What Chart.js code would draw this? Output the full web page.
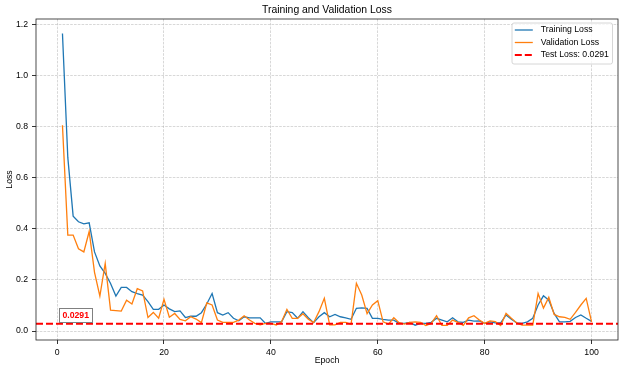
<!DOCTYPE html>
<html>
<head>
<meta charset="utf-8">
<script src="https://cdn.jsdelivr.net/npm/chart.js@4.4.0/dist/chart.umd.min.js"></script>
<style>
  html, body { margin: 0; padding: 0; background: #fff; }
  #wrap { width: 625px; height: 372px; }
</style>
</head>
<body>
<div id="wrap"><canvas id="lossChart" width="625" height="372"></canvas></div>
<script>
// data
const epochs = Array.from({ length: 100 }, (_, i) => i + 1);

const trainLoss = [
  1.165, 0.68, 0.45, 0.428, 0.42, 0.424, 0.31, 0.255, 0.226, 0.186,
  0.137, 0.171, 0.171, 0.154, 0.147, 0.141, 0.115, 0.085, 0.085, 0.102,
  0.087, 0.076, 0.079, 0.053, 0.058, 0.058, 0.072, 0.106, 0.147, 0.072,
  0.063, 0.072, 0.05, 0.04, 0.056, 0.052, 0.052, 0.052, 0.03, 0.036,
  0.036, 0.036, 0.076, 0.072, 0.05, 0.076, 0.052, 0.033, 0.056, 0.072,
  0.056, 0.065, 0.056, 0.052, 0.046, 0.089, 0.091, 0.089, 0.05, 0.05,
  0.046, 0.043, 0.043, 0.03, 0.03, 0.034, 0.023, 0.03, 0.03, 0.034,
  0.05, 0.043, 0.036, 0.052, 0.036, 0.034, 0.043, 0.039, 0.04, 0.03,
  0.036, 0.032, 0.032, 0.063, 0.046, 0.032, 0.03, 0.036, 0.05, 0.102,
  0.138, 0.121, 0.069, 0.036, 0.036, 0.038, 0.053, 0.063, 0.05, 0.038
];

const valLoss = [
  0.806, 0.376, 0.376, 0.322, 0.31, 0.39, 0.23, 0.137, 0.265, 0.082,
  0.08, 0.078, 0.121, 0.106, 0.166, 0.157, 0.053, 0.073, 0.05, 0.124,
  0.054, 0.069, 0.046, 0.04, 0.056, 0.047, 0.033, 0.11, 0.102, 0.043,
  0.034, 0.034, 0.034, 0.043, 0.06, 0.043, 0.03, 0.024, 0.03, 0.03,
  0.024, 0.036, 0.085, 0.05, 0.05, 0.068, 0.046, 0.033, 0.076, 0.128,
  0.024, 0.024, 0.034, 0.034, 0.026, 0.187, 0.141, 0.068, 0.102, 0.119,
  0.036, 0.027, 0.052, 0.033, 0.027, 0.034, 0.036, 0.034, 0.022, 0.03,
  0.06, 0.022, 0.022, 0.043, 0.034, 0.022, 0.052, 0.06, 0.043, 0.03,
  0.04, 0.037, 0.022, 0.069, 0.05, 0.032, 0.023, 0.023, 0.023, 0.147,
  0.09, 0.132, 0.065, 0.056, 0.054, 0.046, 0.073, 0.102, 0.128, 0.036
];

const testLoss = 0.0291;

const xTicks = [0, 20, 40, 60, 80, 100];
const yTicks = [0, 0.2, 0.4, 0.6, 0.8, 1.0, 1.2];

const FONT = '"Liberation Sans", Arial, Helvetica, sans-serif';
const BLUE = '#1f77b4';
const ORANGE = '#ff7f0e';
const RED = '#ff0000';

// title, axis labels, spines, test line, note and legend
const lossDecor = {
  id: 'lossDecor',
  beforeDraw(chart) {
    const ctx = chart.ctx;
    ctx.save();
    ctx.fillStyle = '#fff';
    ctx.fillRect(0, 0, chart.width, chart.height);
    ctx.restore();
  },
  afterDatasetsDraw(chart) {
    const { ctx, chartArea: a, scales: { x, y } } = chart;
    const ty = y.getPixelForValue(testLoss);

    // test loss line
    ctx.save();
    ctx.beginPath();
    ctx.rect(a.left, a.top, a.right - a.left, a.bottom - a.top);
    ctx.clip();
    ctx.strokeStyle = RED;
    ctx.lineWidth = 2;
    ctx.setLineDash([7, 3]);
    ctx.beginPath();
    ctx.moveTo(a.left, ty);
    ctx.lineTo(a.right, ty);
    ctx.stroke();
    ctx.restore();

    // value note
    ctx.save();
    ctx.font = 'bold 8.7px ' + FONT;
    const note = testLoss.toFixed(4);
    const tx = x.getPixelForValue(epochs[0]);
    const tw = ctx.measureText(note).width;
    const cy = ty - 8.3;
    ctx.fillStyle = '#fff';
    ctx.fillRect(tx - 3.4, cy - 7.2, tw + 6.8, 14.4);
    ctx.strokeStyle = '#808080';
    ctx.lineWidth = 1;
    ctx.strokeRect(Math.round(tx - 3.4) + 0.5, Math.round(cy - 7.2) + 0.5, Math.round(tw + 6.8), 14);
    ctx.fillStyle = RED;
    ctx.textBaseline = 'middle';
    ctx.textAlign = 'left';
    ctx.fillText(note, tx, cy);
    ctx.restore();

    // spines
    ctx.save();
    ctx.strokeStyle = '#222';
    ctx.lineWidth = 0.8;
    ctx.strokeRect(a.left, a.top, a.right - a.left, a.bottom - a.top);
    ctx.restore();

    // title and axis labels
    ctx.save();
    ctx.fillStyle = '#000';
    ctx.textAlign = 'center';
    ctx.textBaseline = 'middle';
    const cx = (a.left + a.right) / 2;
    ctx.font = '10.4px ' + FONT;
    ctx.fillText('Training and Validation Loss', cx, 10.3);
    ctx.font = '8.7px ' + FONT;
    ctx.fillText('Epoch', cx, 360.3);
    ctx.translate(10, (a.top + a.bottom) / 2);
    ctx.rotate(-Math.PI / 2);
    ctx.fillText('Loss', 0, 0);
    ctx.restore();

    // legend
    const lx = a.right - 5.5, ltop = a.top + 4;
    const lw = 100.5, lh = 41;
    ctx.save();
    ctx.fillStyle = 'rgba(255,255,255,0.8)';
    ctx.strokeStyle = '#cccccc';
    ctx.lineWidth = 0.8;
    ctx.beginPath();
    ctx.roundRect(lx - lw, ltop, lw, lh, 2);
    ctx.fill();
    ctx.stroke();
    const rows = [
      { label: 'Training Loss', color: BLUE, width: 1.3, dash: [] },
      { label: 'Validation Loss', color: ORANGE, width: 1.3, dash: [] },
      { label: 'Test Loss: ' + testLoss.toFixed(4), color: RED, width: 2, dash: [7, 3] }
    ];
    const hx = lx - lw + 2.8;
    ctx.font = '8.7px ' + FONT;
    ctx.textAlign = 'left';
    ctx.textBaseline = 'middle';
    rows.forEach((r, i) => {
      const ry = ltop + 7 + i * 12.5;
      ctx.strokeStyle = r.color;
      ctx.lineWidth = r.width;
      ctx.setLineDash(r.dash);
      ctx.beginPath();
      ctx.moveTo(hx, ry);
      ctx.lineTo(hx + 18, ry);
      ctx.stroke();
      ctx.fillStyle = '#000';
      ctx.fillText(r.label, hx + 26, ry);
    });
    ctx.restore();
  }
};

const config = {
  type: 'line',
  data: {
    datasets: [
      {
        label: 'Training Loss',
        data: epochs.map((e, i) => ({ x: e, y: trainLoss[i] })),
        borderColor: BLUE,
        borderWidth: 1.3,
        pointRadius: 0,
        tension: 0,
        order: 2
      },
      {
        label: 'Validation Loss',
        data: epochs.map((e, i) => ({ x: e, y: valLoss[i] })),
        borderColor: ORANGE,
        borderWidth: 1.3,
        pointRadius: 0,
        tension: 0,
        order: 1
      }
    ]
  },
  options: {
    responsive: false,
    animation: false,
    devicePixelRatio: 1,
    layout: { padding: { top: 19, right: 7, left: 0, bottom: 0 } },
    plugins: {
      legend: { display: false },
      title: { display: false },
      tooltip: { enabled: false }
    },
    scales: {
      x: {
        type: 'linear',
        min: -3.95,
        max: 104.95,
        afterBuildTicks: (s) => { s.ticks = xTicks.map(v => ({ value: v })); },
        afterFit: (s) => { s.height = 32; },
        ticks: {
          color: '#000',
          font: { family: FONT, size: 8.7 },
          padding: 3,
          maxRotation: 0,
          autoSkip: false,
          callback: (v) => String(v)
        },
        grid: {
          color: 'rgba(176,176,176,0.7)',
          lineWidth: 0.7,
          tickColor: '#000',
          tickWidth: 0.8,
          tickLength: 4
        },
        border: { display: false, dash: [2.6, 1.2] }
      },
      y: {
        type: 'linear',
        min: -0.035,
        max: 1.222,
        afterBuildTicks: (s) => { s.ticks = yTicks.map(v => ({ value: v })); },
        afterFit: (s) => { s.width = 36; },
        ticks: {
          color: '#000',
          font: { family: FONT, size: 8.7 },
          padding: 4,
          autoSkip: false,
          callback: (v) => Number(v).toFixed(1)
        },
        grid: {
          color: 'rgba(176,176,176,0.7)',
          lineWidth: 0.7,
          tickColor: '#000',
          tickWidth: 0.8,
          tickLength: 4
        },
        border: { display: false, dash: [2.6, 1.2] }
      }
    }
  },
  plugins: [lossDecor]
};

const lossChart = new Chart(document.getElementById('lossChart'), config);
</script>
</body>
</html>
